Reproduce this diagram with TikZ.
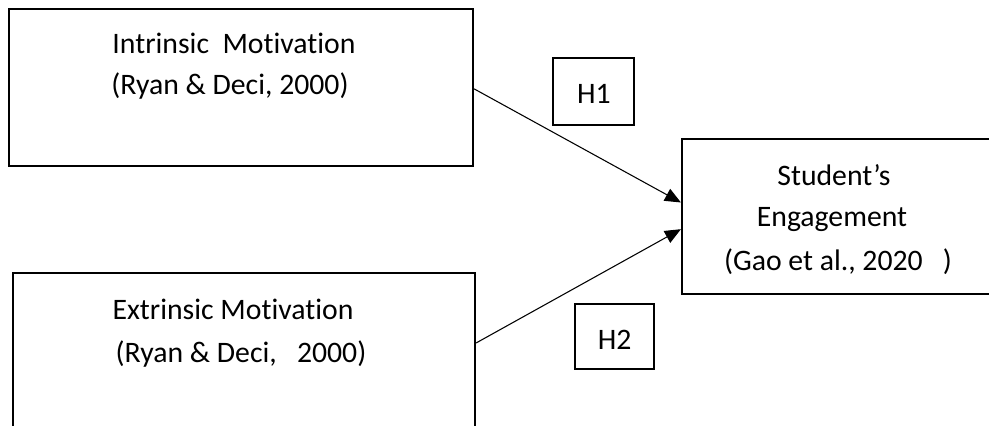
\documentclass[tikz,border=0pt]{standalone}
\usepackage{fontspec}
\setmainfont[Ligatures=NoCommon]{Carlito}
\usetikzlibrary{arrows.meta}
\begin{document}
\begin{tikzpicture}[x=0.75pt,y=-0.75pt,
  box/.style={draw,line width=1.6pt,rectangle,inner sep=0pt},
  lbl/.style={anchor=base,inner sep=0pt,font=\fontsize{22.3}{26}\selectfont},
  conn/.style={line width=0.8pt,-{Triangle[length=12pt,width=10pt]}}]
\useasboundingbox (0,0) rectangle (989,425);
\node[box,minimum width=348pt,minimum height=117.75pt] (b1) at (241,87.5) {};
\node[box,minimum width=346.5pt,minimum height=129pt] (b2) at (244,359) {};
\node[box,minimum width=270pt,minimum height=116.25pt] (b3) at (862,216.5) {};
\node[box,minimum width=60.75pt,minimum height=50.25pt] (h1) at (593.5,91.5) {};
\node[box,minimum width=59.25pt,minimum height=48.75pt] (h2) at (614.5,336.5) {};
\node[lbl] (t11) at (234,53.3) {Intrinsic\ \ Motivation};
\node[lbl] (t12) at (230,94.5) {(Ryan \& Deci, 2000)};
\node[lbl] (t21) at (233,319) {Extrinsic Motivation};
\node[lbl] (t22) at (241,362.7) {(Ryan \& Deci,\ \ \ 2000)};
\node[lbl] (t31) at (834,185) {Student’s};
\node[lbl] (t32) at (832,226.7) {Engagement};
\node[lbl] (t33) at (838,270) {(Gao et al., 2020\ \ \ )};
\node[lbl] (th1) at (594,103) {H1};
\node[lbl] (th2) at (614.7,349) {H2};
\coordinate (s1) at ([yshift=-1pt]b1.east);
\coordinate (s2) at ([yshift=12pt]b2.east);
\draw[conn] (s1) -- ([yshift=10.5pt]b3.west);
\draw[conn] (s2) -- ([yshift=-9.5pt]b3.west);
\end{tikzpicture}
\end{document}
